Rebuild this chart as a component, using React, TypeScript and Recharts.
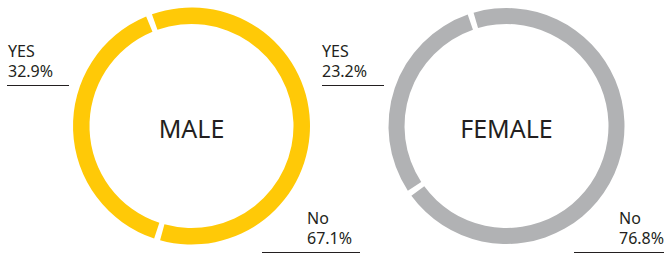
import { PieChart, Pie, Cell } from "recharts";

// answers, as printed next to each ring
const answers = ["YES", "No"];
const maleLabels = ["32.9%", "67.1%"];
const femaleLabels = ["23.2%", "76.8%"];
const groups = ["MALE", "FEMALE"];

// arc sweep as drawn in the picture (the rings are not to scale with the printed numbers)
const maleArc = [39.3, 60.7];
const femaleArc = [29.4, 70.6];

const YELLOW = "#FFC907";
const GREY = "#B1B2B4";
const INK = "#231F20";
const FONT = "'Noto Sans', sans-serif";

const W = 664;
const H = 253;
const CY = 126;
const MALE_CX = 191.5;
const FEMALE_CX = 506.5;

function toRows(values: number[]) {
  return answers.map((name, i) => ({ name, value: values[i] }));
}

function Callout({
  left,
  top,
  width,
  indent,
  title,
  value,
}: {
  left: number;
  top: number;
  width: number;
  indent: number;
  title: string;
  value: string;
}) {
  return (
    <div
      style={{
        position: "absolute",
        left,
        top,
        width: width - indent,
        paddingLeft: indent,
        paddingBottom: 4,
        borderBottom: `1px solid ${INK}`,
        fontFamily: FONT,
        fontSize: 16,
        lineHeight: "20px",
        color: INK,
        whiteSpace: "nowrap",
      }}
    >
      <div>{title}</div>
      <div>{value}</div>
    </div>
  );
}

function CenterTitle({ cx, text }: { cx: number; text: string }) {
  return (
    <div
      style={{
        position: "absolute",
        left: cx - 100,
        top: 113,
        width: 200,
        textAlign: "center",
        fontFamily: FONT,
        fontSize: 25,
        lineHeight: "30px",
        color: INK,
      }}
    >
      {text}
    </div>
  );
}

export default function App() {
  return (
    <div
      style={{
        position: "fixed",
        left: 0,
        top: 0,
        width: W,
        height: H,
        background: "#fff",
        overflow: "hidden",
      }}
    >
      <PieChart width={W} height={H} margin={{ top: 0, right: 0, bottom: 0, left: 0 }}>
        <Pie
          data={toRows(maleArc)}
          dataKey="value"
          cx={MALE_CX}
          cy={CY}
          innerRadius={102}
          outerRadius={118.5}
          startAngle={112.5}
          endAngle={472.5}
          paddingAngle={3}
          stroke="none"
          isAnimationActive={false}
        >
          {maleArc.map((_, i) => (
            <Cell key={i} fill={YELLOW} />
          ))}
        </Pie>
        <Pie
          data={toRows(femaleArc)}
          dataKey="value"
          cx={FEMALE_CX}
          cy={CY}
          innerRadius={102}
          outerRadius={118}
          startAngle={109.2}
          endAngle={469.2}
          paddingAngle={3}
          stroke="none"
          isAnimationActive={false}
        >
          {femaleArc.map((_, i) => (
            <Cell key={i} fill={GREY} />
          ))}
        </Pie>
      </PieChart>

      <CenterTitle cx={MALE_CX} text={groups[0]} />
      <CenterTitle cx={FEMALE_CX} text={groups[1]} />

      <Callout left={7} top={41} width={62} indent={1} title={answers[0]} value={maleLabels[0]} />
      <Callout left={262} top={208} width={98} indent={45} title={answers[1]} value={maleLabels[1]} />
      <Callout left={322} top={41} width={62} indent={0} title={answers[0]} value={femaleLabels[0]} />
      <Callout left={574} top={208} width={90} indent={45} title={answers[1]} value={femaleLabels[1]} />
    </div>
  );
}
